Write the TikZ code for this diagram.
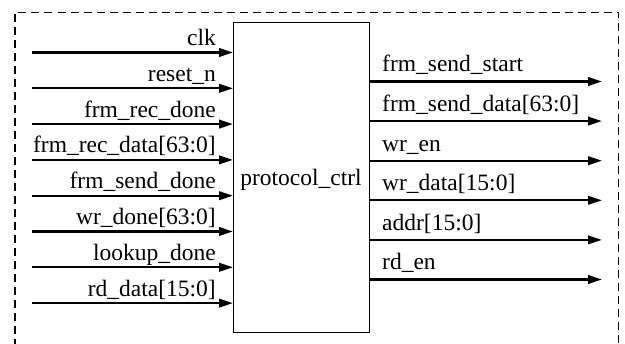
\documentclass[tikz,border=0pt]{standalone}
\usepackage{fontspec}
\setmainfont{Liberation Serif}
\usetikzlibrary{arrows.meta}
\tikzset{
  frame/.style={line width=1.8pt, dash pattern=on 8pt off 5pt},
  blockbox/.style={draw, line width=1.4pt, minimum width=136pt, minimum height=310pt, inner sep=0pt, anchor=north west},
  sig/.style={line width=2.3pt, -{Triangle[length=14pt,width=8.5pt]}},
  lbl/.style={font=\fontsize{23.5}{28}\selectfont, inner sep=0pt},
}
\begin{document}
\begin{tikzpicture}[x=1pt,y=-1pt]
\useasboundingbox (0,0) rectangle (625,344);
\draw[frame] (15,360) -- (15,12.5) -- (618.5,12.5) -- (618.5,360);
\node[blockbox] (ctrl) at (233,22) {};
\node[lbl, anchor=base] (ctrltxt) at (301,185.7) {protocol\_ctrl};
\foreach \t [count=\i from 0] in {clk,reset\_n,frm\_rec\_done,frm\_rec\_data[63:0],frm\_send\_done,wr\_done[63:0],lookup\_done,rd\_data[15:0]} {
  \coordinate (in\i) at (32,52.5+35.8*\i);
  \draw[sig] (in\i) -- (in\i -| ctrl.west);
  \node[lbl, anchor=base east] (inl\i) at (216,52.5+35.8*\i-7) {\t};
}
\foreach \t [count=\i from 0] in {frm\_send\_start,frm\_send\_data[63:0],wr\_en,wr\_data[15:0],addr[15:0],rd\_en} {
  \coordinate (out\i) at (602,81.5+39.6*\i);
  \draw[sig] (out\i -| ctrl.east) -- (out\i);
  \node[lbl, anchor=base west] (outl\i) at (382,81.5+39.6*\i-9.5) {\t};
}
\end{tikzpicture}
\end{document}
